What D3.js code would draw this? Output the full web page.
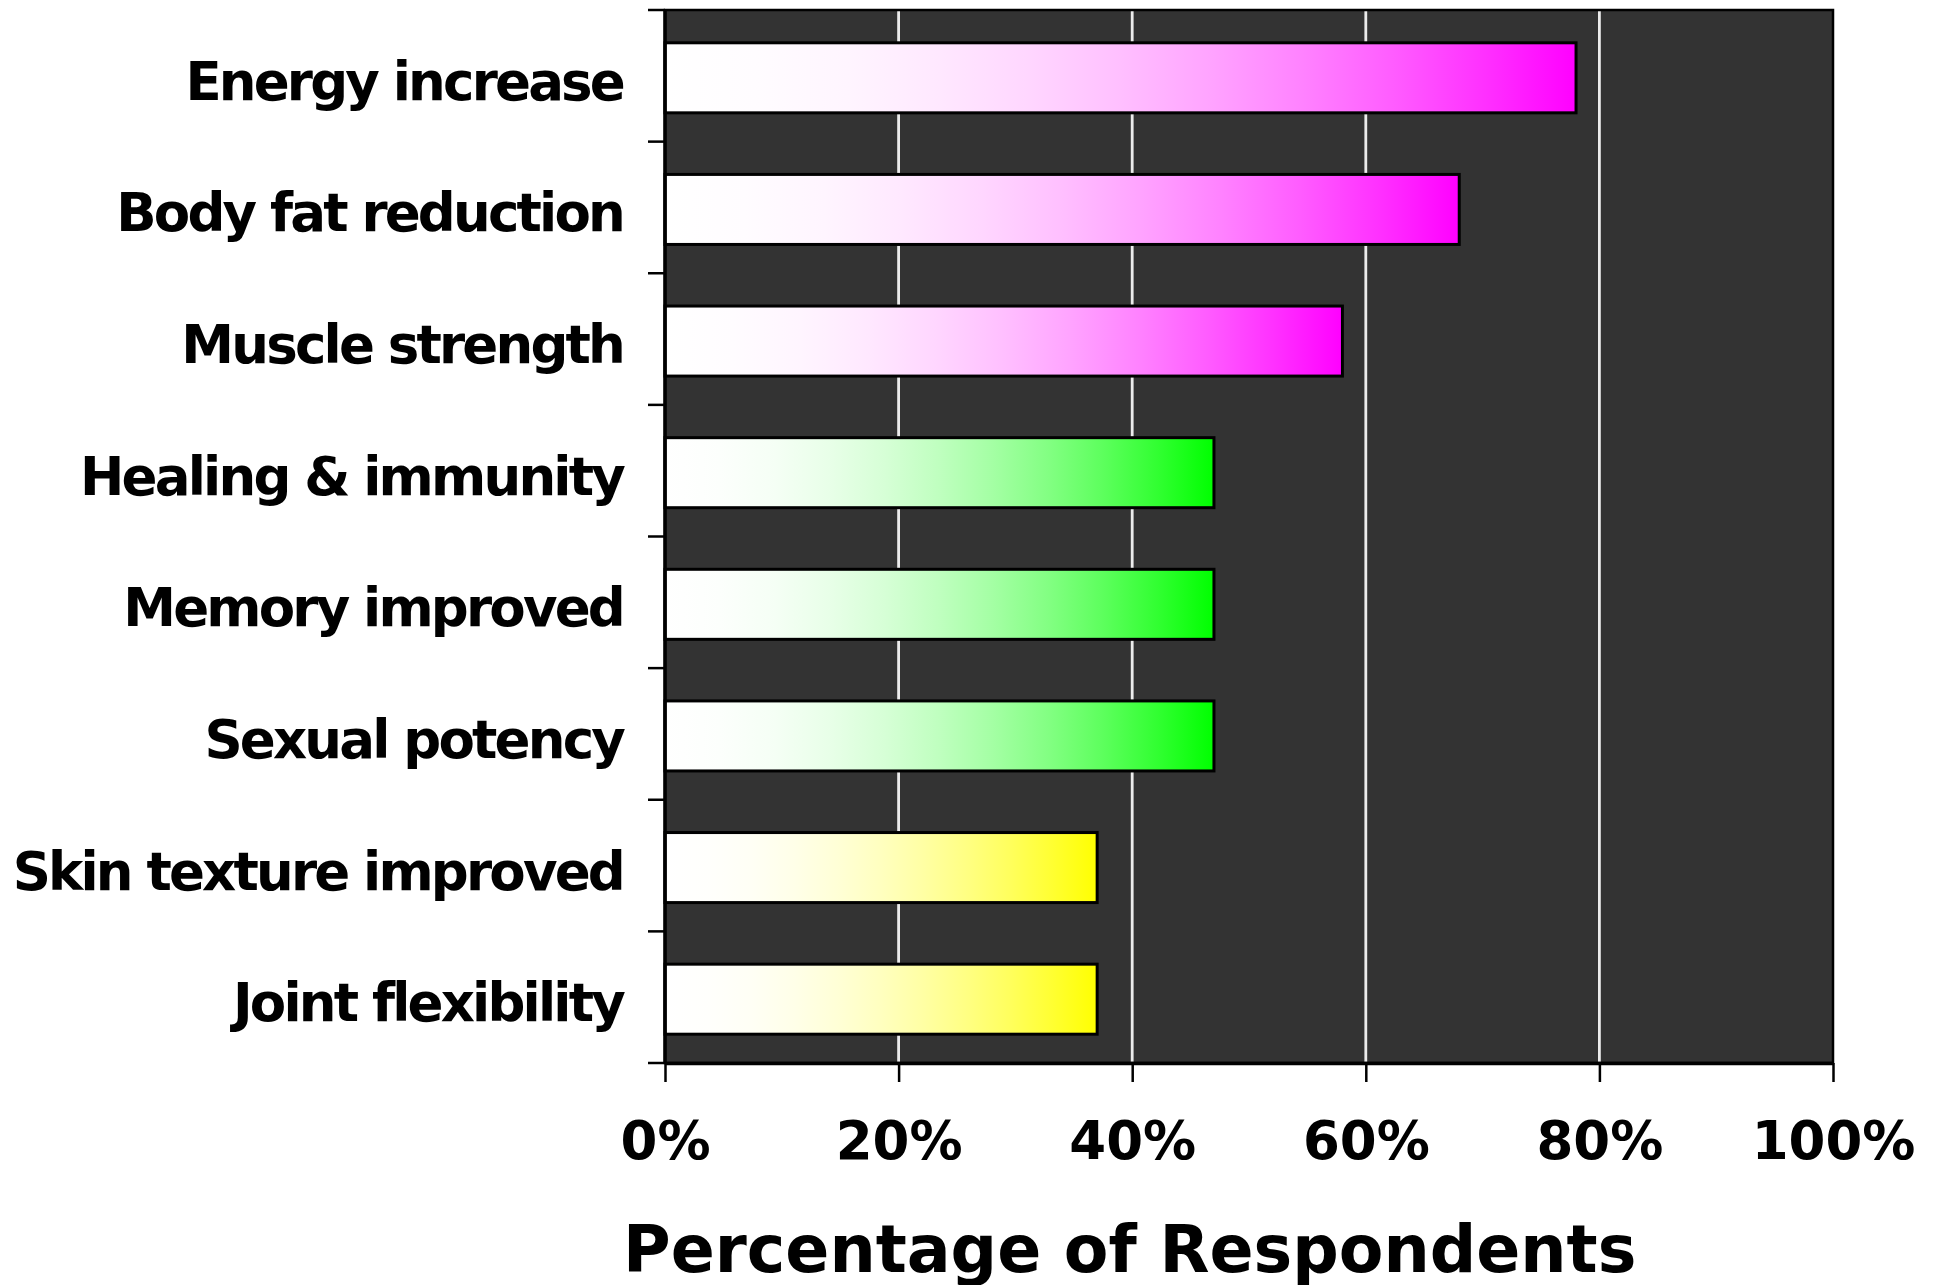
<!DOCTYPE html>
<html>
<head>
<meta charset="utf-8">
<script src="https://cdn.jsdelivr.net/npm/d3@7"></script>
<style>
  html, body { margin: 0; padding: 0; background: #ffffff; }
  svg { display: block; }
</style>
</head>
<body>
<svg id="chart" width="1936" height="1285"></svg>
<script>
// ---- data ----
const categories = ["Energy increase", "Body fat reduction", "Muscle strength", "Healing & immunity",
                    "Memory improved", "Sexual potency", "Skin texture improved", "Joint flexibility"];
const values = [78, 68, 58, 47, 47, 47, 37, 37];
const barColors = ["#ff00ff", "#ff00ff", "#ff00ff", "#00ff00", "#00ff00", "#00ff00", "#ffff00", "#ffff00"];
const xTicks = [0, 20, 40, 60, 80, 100];
const gridTicks = [20, 40, 60, 80];
const axisTitle = "Percentage of Respondents";

// ---- layout ----
const plotL = 665, plotR = 1833, plotT = 10, plotB = 1063;
const svg = d3.select("#chart");

const x = d3.scaleLinear().domain([0, 100]).range([plotL, plotR]);
const y = d3.scaleBand().domain(categories).range([plotT, plotB]).paddingInner(0.468).paddingOuter(0.234);

// gradients (white -> colour, eased)
const defs = svg.append("defs");
const uniqueColors = Array.from(new Set(barColors));
uniqueColors.forEach((c, i) => {
  const g = defs.append("linearGradient").attr("id", "grad" + i)
    .attr("x1", "0%").attr("x2", "100%").attr("y1", "0%").attr("y2", "0%");
  const interp = d3.interpolateRgb("#ffffff", c);
  d3.range(0, 1.0001, 0.1).forEach(t => {
    g.append("stop").attr("offset", (t * 100) + "%").attr("stop-color", interp(t * t));
  });
});

// plot background
svg.append("rect")
  .attr("x", plotL).attr("y", plotT)
  .attr("width", plotR - plotL).attr("height", plotB - plotT)
  .attr("fill", "#333333");

// grid lines
svg.append("g").selectAll("line").data(gridTicks).join("line")
  .attr("x1", d => x(d)).attr("x2", d => x(d))
  .attr("y1", plotT).attr("y2", plotB)
  .attr("stroke", "#ececec").attr("stroke-width", 2.8);

// bars
svg.append("g").selectAll("rect").data(categories).join("rect")
  .attr("x", x(0))
  .attr("y", d => y(d) + 2)
  .attr("width", (d, i) => x(values[i]) - x(0))
  .attr("height", y.bandwidth())
  .attr("fill", (d, i) => "url(#grad" + uniqueColors.indexOf(barColors[i]) + ")")
  .attr("stroke", "#000000").attr("stroke-width", 3);

// plot frame
svg.append("rect")
  .attr("x", plotL).attr("y", plotT)
  .attr("width", plotR - plotL).attr("height", plotB - plotT)
  .attr("fill", "none").attr("stroke", "#000000").attr("stroke-width", 2.5);

// x axis
const xAxis = d3.axisBottom(x).tickValues(xTicks).tickFormat(d => d + "%").tickSize(19).tickSizeOuter(0);
const gx = svg.append("g").attr("transform", `translate(0,${plotB})`).call(xAxis);
gx.select(".domain").attr("stroke", "#000").attr("stroke-width", 3.5);
gx.selectAll(".tick line").attr("stroke", "#000").attr("stroke-width", 2.5);
gx.selectAll(".tick text")
  .attr("y", 96).attr("dy", 0)
  .attr("fill", "#000")
  .style("font-family", "'DejaVu Sans', Verdana, sans-serif")
  .style("font-weight", "bold")
  .style("font-size", "53px");

// y axis: labels
const yAxis = d3.axisLeft(y).tickSize(0).tickPadding(42);
const gy = svg.append("g").attr("transform", `translate(${plotL},0)`).call(yAxis);
gy.select(".domain").remove();
gy.selectAll(".tick text")
  .attr("dy", 0)
  .attr("y", 24)
  .attr("fill", "#000")
  .style("font-family", "'DejaVu Sans', Verdana, sans-serif")
  .style("font-weight", "bold")
  .style("font-size", "53px")
  .style("letter-spacing", "-2.8px");

// y axis line and boundary ticks
const boundaries = categories.map(c => y(c) - y.step() * y.paddingInner() / 2).concat([plotB]);
svg.append("line")
  .attr("x1", plotL).attr("x2", plotL).attr("y1", plotT).attr("y2", plotB)
  .attr("stroke", "#000").attr("stroke-width", 3.5);
svg.append("g").selectAll("line").data(boundaries).join("line")
  .attr("x1", plotL - 17).attr("x2", plotL)
  .attr("y1", d => d).attr("y2", d => d)
  .attr("stroke", "#000").attr("stroke-width", 2.5);

// axis title
svg.append("text")
  .attr("x", 623).attr("y", 1272)
  .attr("fill", "#000")
  .style("font-family", "'DejaVu Sans', Verdana, sans-serif")
  .style("font-weight", "bold")
  .style("font-size", "65px")
  .text(axisTitle);
</script>
</body>
</html>
